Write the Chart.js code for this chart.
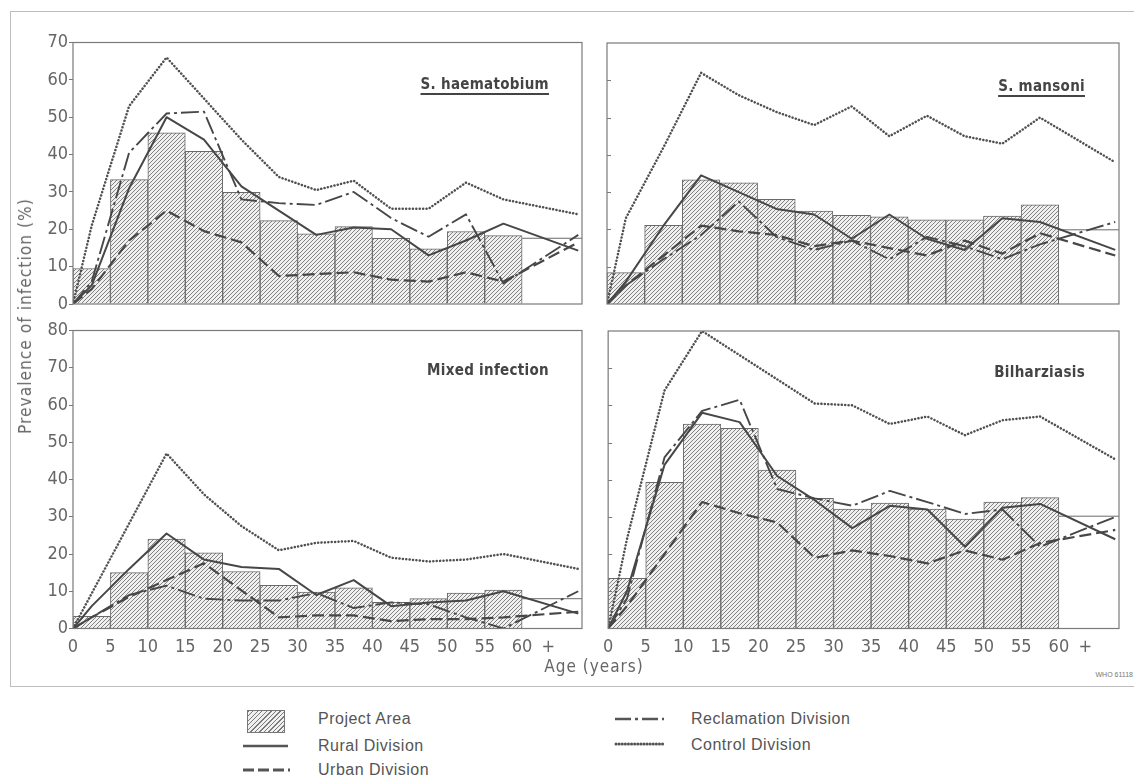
<!DOCTYPE html>
<html>
<head>
<meta charset="utf-8">
<title>Prevalence of bilharzial infection by age</title>
<script src="https://cdn.jsdelivr.net/npm/chart.js@4.4.1/dist/chart.umd.min.js"></script>
<style>
  html, body { margin: 0; padding: 0; background: #fff; }
  body { width: 1134px; height: 775px; position: relative; overflow: hidden;
         font-family: 'Liberation Sans', Arial, sans-serif; color: #555; }
  .frame { position: absolute; left: 10px; top: 11px; width: 1130px; height: 674px;
           border-left: 1.5px solid #bdbdbd; border-top: 1.5px solid #bdbdbd; border-bottom: 1.5px solid #bdbdbd; }
  canvas { position: absolute; }
  .narrow { font-family: 'Liberation Sans Narrow', 'DejaVu Sans Condensed', sans-serif; }
  .ptitle { position: absolute; width: 220px; text-align: right; white-space: nowrap;
            font-weight: bold; font-size: 15px; color: #444; letter-spacing: 0.3px; line-height: 20px; }
  .ptitle.ul { text-decoration: underline; text-decoration-thickness: 1.5px; text-underline-offset: 4px; }
  .ytitle { position: absolute; left: 25px; top: 316px; transform: translate(-50%, -50%) rotate(-90deg);
            white-space: nowrap; font-size: 17px; color: #666; letter-spacing: 1.1px; }
  .xtitle { position: absolute; left: 594px; top: 666px; transform: translate(-50%, -50%);
            white-space: nowrap; font-size: 17px; color: #666; letter-spacing: 1px; }
  .code { position: absolute; right: 1px; top: 671px; font-size: 7px; color: #777; white-space: nowrap; }
  .lg { position: absolute; font-size: 16px; color: #555; letter-spacing: 0.5px; white-space: nowrap; line-height: 18px; }
  .hatchbox { position: absolute; left: 247px; top: 710px; width: 36px; height: 21px; border: 1px solid #777;
              background: repeating-linear-gradient(135deg, #7a7a7a 0 1px, #f0f0f0 1px 3.2px); }
</style>
</head>
<body>
<div class="frame"></div>

<canvas id="haem" width="580" height="290" style="left:15px;top:30px"></canvas>
<canvas id="mans" width="535" height="290" style="left:595px;top:30px"></canvas>
<canvas id="mixed" width="580" height="350" style="left:15px;top:318px"></canvas>
<canvas id="bilh" width="535" height="350" style="left:595px;top:318px"></canvas>

<div class="ptitle narrow ul" style="left:329px;top:74px">S. haematobium</div>
<div class="ptitle narrow ul" style="left:865px;top:76px">S. mansoni</div>
<div class="ptitle narrow" style="left:329px;top:360px">Mixed infection</div>
<div class="ptitle narrow" style="left:865px;top:362px">Bilharziasis</div>

<div class="ytitle narrow">Prevalence of infection (%)</div>
<div class="xtitle narrow">Age (years)</div>
<div class="code">WHO 61118</div>

<!-- legend -->
<div class="hatchbox"></div>
<svg width="1134" height="85" style="position:absolute;left:0;top:690px">
  <line x1="243" y1="56" x2="288" y2="56" stroke="#555" stroke-width="2.4"/>
  <line x1="243" y1="80" x2="290" y2="80" stroke="#555" stroke-width="3" stroke-dasharray="11 4"/>
  <line x1="615" y1="29" x2="664" y2="29" stroke="#555" stroke-width="2.4" stroke-dasharray="16 4 3 4"/>
  <line x1="616" y1="54" x2="664" y2="54" stroke="#555" stroke-width="3" stroke-dasharray="0.1 3" stroke-linecap="round"/>
</svg>
<div class="lg" style="left:318px;top:710px">Project Area</div>
<div class="lg" style="left:318px;top:737px">Rural Division</div>
<div class="lg" style="left:318px;top:761px">Urban Division</div>
<div class="lg" style="left:691px;top:710px">Reclamation Division</div>
<div class="lg" style="left:691px;top:736px">Control Division</div>

<script>
// Age groups: vertices of the division curves (mid-points of 5-year groups, last one for 60+)
const ages = [0, 2.5, 7.5, 12.5, 17.5, 22.5, 27.5, 32.5, 37.5, 42.5, 47.5, 52.5, 57.5, 67.5];
// Mid-points of the 5-year bars of the Project Area (0-5 ... 55-60)
const barMids = [2.5, 7.5, 12.5, 17.5, 22.5, 27.5, 32.5, 37.5, 42.5, 47.5, 52.5, 57.5];
const groupWidth = 5;        // years per bar
const openGroupStart = 60;   // "60 +" group
const ageAxisEnd = 68;
const xTickValues = [0, 5, 10, 15, 20, 25, 30, 35, 40, 45, 50, 55, 60, 63.5];
const xTickLabels = ['0', '5', '10', '15', '20', '25', '30', '35', '40', '45', '50', '55', '60', '+'];

// S. haematobium
const haemProject = [9.5, 33.3, 45.8, 40.9, 29.9, 22.3, 18.8, 20.7, 17.6, 14.8, 19.4, 18.3];
const haemProject60 = 17.6;
const haemRural = [0, 5, 31, 50, 44, 31.5, 25, 18.5, 20.5, 20, 13, 17, 21.5, 14.3];
const haemUrban = [0, 4, 17, 25, 19.5, 16.5, 7.5, 8, 8.5, 6.5, 6, 8.5, 6, 16.5];
const haemReclamation = [0, 6, 40.5, 51, 51.5, 28, 27, 26.5, 30, 23, 18, 24, 5.5, 18.5];
const haemControl = [0, 21, 53, 66, 55, 44, 34, 30.5, 33, 25.5, 25.5, 32.5, 28, 24];

// S. mansoni
const mansProject = [8.4, 21.1, 33.3, 32.5, 28.1, 24.9, 23.8, 23.4, 22.6, 22.6, 23.6, 26.6];
const mansProject60 = 19.9;
const mansRural = [0, 6, 21, 34.5, 30, 25.5, 24, 17.5, 24, 17.5, 14.5, 23, 22, 14.5];
const mansUrban = [0, 5, 13, 21, 19.5, 18.5, 15.5, 17, 15, 13, 17, 13.5, 19, 13];
const mansReclamation = [0, 5, 12, 18.5, 27.5, 18, 14.5, 17, 12, 18, 15.5, 12, 16, 22];
const mansControl = [0, 23, 42, 62, 56, 51.5, 48, 53, 45, 50.5, 45, 43, 50, 38];

// Mixed infection
const mixedProject = [3.3, 15, 24, 20.3, 15.3, 11.6, 9.8, 10.9, 7, 8, 9.5, 10.3];
const mixedProject60 = 8;
const mixedRural = [0, 6, 16, 25.5, 18.5, 16.5, 16, 9, 13, 6, 7, 7.5, 10, 4];
const mixedUrban = [0, 3, 8.5, 13, 17.5, null, 3, 3.5, 3.5, 2, 2.5, 2.5, 3, 4.5];
const mixedReclamation = [0, 3, 9, 11.5, 8, 7.5, 7.5, 9.5, 5.5, 7, 6.5, 3, 0, 10];
const mixedControl = [0, null, null, 47, 36, 27.5, 21, 23, 23.5, 19, 18, 18.5, 20, 16];

// Bilharziasis (all forms)
const bilhProject = [13.5, 39.3, 55, 53.8, 42.6, 35, 32.1, 33.7, 32.1, 29.4, 34, 35.2];
const bilhProject60 = 30.2;
const bilhRural = [0, 10, 44, 58, 55.5, 41, 34.5, 27, 33, 32, 22, 32.5, 33.5, 24];
const bilhUrban = [0, 6, 20, 34, 31, 28.5, 19, 21, 19.5, 17.5, 21, 18.5, 23, 26.5];
const bilhReclamation = [0, 8, 46, 58.5, 61.5, 37.5, 35, 33, 37, 34, 30.8, 32, 22, 30];
const bilhControl = [0, 24, 64, 80, 73.5, 67, 60.5, 60, 55, 57, 52, 56, 57, 45.5];

const narrowFont = "'Liberation Sans Narrow', 'DejaVu Sans Condensed', sans-serif";
const ink = '#474747';

function hatchPattern() {
  const c = document.createElement('canvas');
  c.width = 4; c.height = 4;
  const g = c.getContext('2d');
  g.fillStyle = '#f0f0f0';
  g.fillRect(0, 0, 4, 4);
  g.strokeStyle = '#747474';
  g.lineWidth = 0.9;
  g.beginPath();
  g.moveTo(0, 4); g.lineTo(4, 0);
  g.moveTo(-1, 1); g.lineTo(1, -1);
  g.moveTo(3, 5); g.lineTo(5, 3);
  g.stroke();
  return g.createPattern(c, 'repeat');
}

const toPoints = arr => ages.map((a, i) => ({ x: a, y: arr[i] }));

const panelFrame = {
  id: 'panelFrame',
  afterDatasetsDraw(chart, args, opts) {
    const { ctx, chartArea: a, scales } = chart;
    ctx.save();
    ctx.strokeStyle = '#7a7a7a';
    ctx.lineWidth = 1.2;
    ctx.strokeRect(a.left, a.top, a.right - a.left, a.bottom - a.top);
    if (opts.innerTicks) {
      ctx.lineWidth = 1;
      for (let v = 10; v < scales.y.max; v += 10) {
        const y = Math.round(scales.y.getPixelForValue(v)) + 0.5;
        ctx.beginPath();
        ctx.moveTo(a.left, y);
        ctx.lineTo(a.left + 4, y);
        ctx.stroke();
      }
    }
    ctx.restore();
  }
};

function makePanel(id, s) {
  const lineBase = { type: 'line', pointRadius: 0, fill: false, tension: 0, spanGaps: true,
                     borderColor: ink, borderJoinStyle: 'round', order: 1 };
  const chart = new Chart(document.getElementById(id), {
    type: 'bar',
    data: {
      datasets: [
        { type: 'bar', label: 'Project Area', data: barMids.map((m, i) => ({ x: m, y: s.project[i] })),
          backgroundColor: hatchPattern(), borderColor: '#6a6a6a', borderWidth: 1,
          barPercentage: 1, categoryPercentage: 1, order: 5 },
        { type: 'line', label: 'Project Area 60+', data: [{ x: openGroupStart, y: s.project60 }, { x: ageAxisEnd, y: s.project60 }],
          borderColor: '#6a6a6a', borderWidth: 1, pointRadius: 0, order: 4 },
        Object.assign({}, lineBase, { label: 'Rural Division', data: toPoints(s.rural), borderWidth: 2 }),
        Object.assign({}, lineBase, { label: 'Urban Division', data: toPoints(s.urban), borderWidth: 2.2, borderDash: [12, 5] }),
        Object.assign({}, lineBase, { label: 'Reclamation Division', data: toPoints(s.reclamation), borderWidth: 1.9, borderDash: [18, 4, 3, 4] }),
        Object.assign({}, lineBase, { label: 'Control Division', data: toPoints(s.control), borderWidth: 2.5,
          borderDash: [0.1, 3.3], borderCapStyle: 'round', borderColor: '#505050' })
      ]
    },
    options: {
      responsive: false,
      devicePixelRatio: 1,
      animation: false,
      events: [],
      layout: { padding: { top: s.padTop, right: s.padRight, left: 0, bottom: 0 } },
      plugins: { legend: { display: false }, tooltip: { enabled: false }, panelFrame: { innerTicks: s.innerTicks } },
      scales: {
        x: {
          type: 'linear', min: 0, max: ageAxisEnd, offset: false,
          grid: { display: false, drawTicks: false }, border: { display: false },
          afterBuildTicks: sc => { sc.ticks = xTickValues.map(v => ({ value: v })); },
          ticks: { display: s.xLabels, autoSkip: false, maxRotation: 0, padding: 8, color: '#666',
                   font: { family: narrowFont, size: 18 }, callback: (v, i) => xTickLabels[i] },
          afterFit: sc => { sc.height = s.xHeight; }
        },
        y: {
          min: 0, max: s.yMax,
          grid: { display: s.yLabels, drawOnChartArea: false, drawTicks: true, tickLength: 4, color: '#777' },
          border: { display: false },
          ticks: { display: s.yLabels, stepSize: 10, padding: 1, color: '#666', font: { family: narrowFont, size: 18 } },
          afterFit: sc => { sc.width = s.yWidth; }
        }
      }
    },
    plugins: [panelFrame]
  });
  // each bar spans one full 5-year age group on the age scale
  const xs = chart.scales.x;
  chart.data.datasets[0].barThickness = xs.getPixelForValue(groupWidth) - xs.getPixelForValue(0);
  chart.update('none');
}

makePanel('haem', { project: haemProject, project60: haemProject60, rural: haemRural, urban: haemUrban,
  reclamation: haemReclamation, control: haemControl, yMax: 70, yLabels: true, xLabels: false, innerTicks: false,
  padTop: 12.5, padRight: 13, yWidth: 58, xHeight: 16 });
makePanel('mans', { project: mansProject, project60: mansProject60, rural: mansRural, urban: mansUrban,
  reclamation: mansReclamation, control: mansControl, yMax: 70, yLabels: false, xLabels: false, innerTicks: true,
  padTop: 13, padRight: 11, yWidth: 12, xHeight: 16 });
makePanel('mixed', { project: mixedProject, project60: mixedProject60, rural: mixedRural, urban: mixedUrban,
  reclamation: mixedReclamation, control: mixedControl, yMax: 80, yLabels: true, xLabels: true, innerTicks: false,
  padTop: 12.5, padRight: 13, yWidth: 58, xHeight: 39.5 });
makePanel('bilh', { project: bilhProject, project60: bilhProject60, rural: bilhRural, urban: bilhUrban,
  reclamation: bilhReclamation, control: bilhControl, yMax: 80, yLabels: false, xLabels: true, innerTicks: true,
  padTop: 13, padRight: 11, yWidth: 12, xHeight: 39.5 });
</script>
</body>
</html>
